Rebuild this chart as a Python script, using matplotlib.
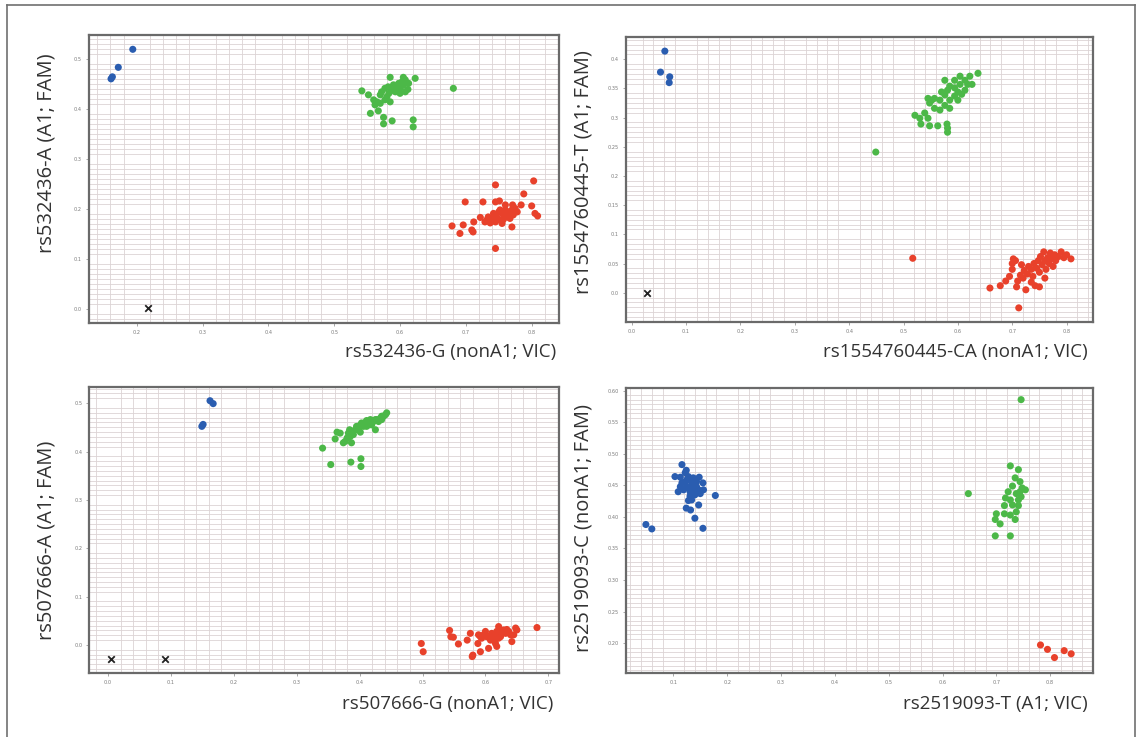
import matplotlib
matplotlib.use("Agg")
import matplotlib.pyplot as plt
from matplotlib.ticker import FixedLocator, MultipleLocator, FixedFormatter
from matplotlib.lines import Line2D

# ---------------- data ----------------
# Panel 1: rs532436
p1_blue_x = [0.194, 0.172, 0.163, 0.161]
p1_blue_y = [0.520, 0.484, 0.465, 0.461]
p1_green_x = [0.542, 0.585, 0.605, 0.623, 0.681, 0.552, 0.560, 0.562, 0.555, 0.567,
              0.575, 0.588, 0.575, 0.620, 0.620, 0.572, 0.577, 0.582, 0.590, 0.598,
              0.603, 0.608, 0.593, 0.600, 0.608, 0.580, 0.585, 0.570, 0.595, 0.613,
              0.588, 0.600, 0.577, 0.565, 0.598, 0.605, 0.612, 0.583, 0.592, 0.570]
p1_green_y = [0.437, 0.464, 0.464, 0.462, 0.442, 0.429, 0.419, 0.409, 0.392, 0.397,
              0.384, 0.377, 0.371, 0.379, 0.365, 0.435, 0.442, 0.445, 0.449, 0.452,
              0.455, 0.459, 0.435, 0.432, 0.435, 0.425, 0.415, 0.429, 0.445, 0.452,
              0.438, 0.442, 0.419, 0.415, 0.445, 0.448, 0.440, 0.432, 0.440, 0.412]
p1_red_x = [0.745, 0.803, 0.788, 0.699, 0.726, 0.745, 0.751, 0.760, 0.771, 0.784,
            0.800, 0.805, 0.809, 0.679, 0.691, 0.696, 0.712, 0.709, 0.711, 0.722,
            0.734, 0.737, 0.742, 0.750, 0.752, 0.755, 0.762, 0.767, 0.770, 0.772,
            0.778, 0.770, 0.745, 0.732, 0.740, 0.747, 0.757, 0.765, 0.775, 0.767,
            0.760, 0.752, 0.745, 0.729, 0.762, 0.770, 0.757]
p1_red_y = [0.249, 0.257, 0.231, 0.215, 0.215, 0.215, 0.217, 0.209, 0.209, 0.209,
            0.207, 0.192, 0.187, 0.167, 0.152, 0.169, 0.175, 0.159, 0.155, 0.184,
            0.185, 0.173, 0.192, 0.195, 0.179, 0.172, 0.185, 0.193, 0.199, 0.189,
            0.195, 0.165, 0.122, 0.179, 0.182, 0.185, 0.189, 0.195, 0.202, 0.182,
            0.199, 0.199, 0.175, 0.175, 0.192, 0.195, 0.180]
p1_ntc_x = [0.217]
p1_ntc_y = [0.002]

# Panel 2: rs1554760445
p2_blue_x = [0.061, 0.053, 0.070, 0.069]
p2_blue_y = [0.414, 0.378, 0.370, 0.360]
p2_green_x = [0.637, 0.622, 0.613, 0.604, 0.594, 0.585, 0.600, 0.613, 0.626, 0.576,
              0.567, 0.557, 0.548, 0.557, 0.539, 0.530, 0.545, 0.567, 0.576, 0.585,
              0.594, 0.607, 0.618, 0.545, 0.570, 0.581, 0.594, 0.604, 0.532, 0.548,
              0.563, 0.580, 0.581, 0.581, 0.521, 0.576, 0.552, 0.600, 0.585, 0.449]
p2_green_y = [0.376, 0.371, 0.364, 0.357, 0.351, 0.354, 0.344, 0.347, 0.357, 0.339,
              0.330, 0.333, 0.325, 0.316, 0.308, 0.299, 0.299, 0.313, 0.321, 0.330,
              0.337, 0.340, 0.357, 0.333, 0.344, 0.347, 0.364, 0.371, 0.289, 0.286,
              0.286, 0.289, 0.282, 0.275, 0.304, 0.364, 0.330, 0.330, 0.316, 0.241]
p2_red_x = [0.659, 0.678, 0.688, 0.695, 0.700, 0.700, 0.702, 0.706, 0.712, 0.710,
            0.715, 0.720, 0.722, 0.728, 0.730, 0.735, 0.738, 0.740, 0.745, 0.748,
            0.750, 0.752, 0.755, 0.758, 0.760, 0.762, 0.765, 0.768, 0.770, 0.772,
            0.775, 0.778, 0.780, 0.785, 0.790, 0.795, 0.800, 0.808, 0.742, 0.750,
            0.735, 0.760, 0.725, 0.717, 0.708, 0.517]
p2_red_y = [0.008, 0.012, 0.020, 0.028, 0.040, 0.050, 0.058, 0.055, -0.026, 0.020,
            0.030, 0.025, 0.038, 0.032, 0.045, 0.040, 0.028, 0.050, 0.042, 0.055,
            0.035, 0.062, 0.048, 0.070, 0.055, 0.040, 0.060, 0.050, 0.068, 0.058,
            0.045, 0.065, 0.055, 0.062, 0.070, 0.060, 0.065, 0.058, 0.012, 0.010,
            0.018, 0.025, 0.005, 0.048, 0.010, 0.059]
p2_ntc_x = [0.029]
p2_ntc_y = [0.000]

# Panel 3: rs507666
p3_blue_x = [0.162, 0.167, 0.149, 0.151]
p3_blue_y = [0.505, 0.499, 0.452, 0.456]
p3_green_x = [0.341, 0.354, 0.386, 0.402, 0.402, 0.361, 0.364, 0.374, 0.377, 0.382,
              0.384, 0.387, 0.390, 0.395, 0.401, 0.403, 0.409, 0.411, 0.414, 0.417,
              0.422, 0.425, 0.425, 0.427, 0.433, 0.435, 0.438, 0.441, 0.443, 0.380,
              0.393, 0.398, 0.406, 0.411, 0.419, 0.430, 0.369, 0.401, 0.385, 0.417,
              0.435]
p3_green_y = [0.407, 0.373, 0.378, 0.385, 0.369, 0.426, 0.440, 0.418, 0.421, 0.438,
              0.445, 0.418, 0.435, 0.452, 0.455, 0.459, 0.460, 0.464, 0.455, 0.459,
              0.462, 0.466, 0.445, 0.466, 0.469, 0.473, 0.473, 0.476, 0.480, 0.428,
              0.445, 0.445, 0.452, 0.452, 0.455, 0.462, 0.438, 0.440, 0.431, 0.466,
              0.466]
p3_red_x = [0.498, 0.501, 0.543, 0.545, 0.549, 0.557, 0.571, 0.576, 0.579, 0.580,
            0.592, 0.588, 0.589, 0.594, 0.600, 0.602, 0.605, 0.608, 0.610, 0.613,
            0.616, 0.618, 0.621, 0.624, 0.626, 0.629, 0.632, 0.634, 0.637, 0.640,
            0.642, 0.645, 0.648, 0.650, 0.682, 0.618, 0.597, 0.608, 0.616, 0.624,
            0.592, 0.613, 0.621]
p3_red_y = [0.003, -0.014, 0.030, 0.017, 0.016, 0.002, 0.010, 0.024, -0.024, -0.021,
            -0.014, 0.003, 0.021, 0.014, 0.028, 0.017, -0.007, 0.010, 0.024, 0.017,
            0.003, 0.028, 0.038, 0.017, 0.024, 0.031, 0.024, 0.032, 0.028, 0.021,
            0.007, 0.021, 0.035, 0.031, 0.036, -0.003, 0.021, 0.019, 0.023, 0.028,
            0.017, 0.010, 0.014]
p3_ntc_x = [0.004, 0.091]
p3_ntc_y = [-0.028, -0.028]

# Panel 4: rs2519093
p4_blue_x = [0.116, 0.124, 0.103, 0.113, 0.128, 0.148, 0.131, 0.122, 0.134, 0.143,
             0.155, 0.113, 0.125, 0.137, 0.109, 0.119, 0.131, 0.147, 0.156, 0.178,
             0.131, 0.140, 0.150, 0.134, 0.128, 0.147, 0.124, 0.132, 0.140, 0.155,
             0.049, 0.060, 0.122, 0.126, 0.137, 0.116, 0.143, 0.137, 0.130]
p4_blue_y = [0.483, 0.474, 0.464, 0.463, 0.464, 0.463, 0.459, 0.456, 0.454, 0.456,
             0.454, 0.448, 0.448, 0.449, 0.440, 0.443, 0.440, 0.443, 0.443, 0.434,
             0.433, 0.435, 0.437, 0.427, 0.426, 0.419, 0.414, 0.411, 0.398, 0.382,
             0.388, 0.381, 0.470, 0.460, 0.462, 0.454, 0.448, 0.440, 0.446]
p4_green_x = [0.746, 0.648, 0.726, 0.741, 0.735, 0.744, 0.748, 0.730, 0.722, 0.737,
              0.746, 0.726, 0.715, 0.741, 0.700, 0.715, 0.726, 0.737, 0.698, 0.707,
              0.698, 0.726, 0.735, 0.744, 0.754, 0.730, 0.717, 0.741]
p4_green_y = [0.586, 0.437, 0.481, 0.475, 0.462, 0.456, 0.446, 0.449, 0.440, 0.437,
              0.432, 0.427, 0.418, 0.418, 0.405, 0.405, 0.403, 0.408, 0.396, 0.389,
              0.370, 0.370, 0.396, 0.440, 0.443, 0.419, 0.430, 0.427]
p4_red_x = [0.782, 0.795, 0.808, 0.826, 0.839]
p4_red_y = [0.197, 0.190, 0.177, 0.188, 0.183]

p1_xticks = [0.2, 0.3, 0.4, 0.5, 0.6, 0.7, 0.8]
p1_yticks = [0.0, 0.1, 0.2, 0.3, 0.4, 0.5]
p2_xticks = [0.0, 0.1, 0.2, 0.3, 0.4, 0.5, 0.6, 0.7, 0.8]
p2_yticks = [0.0, 0.05, 0.1, 0.15, 0.2, 0.25, 0.3, 0.35, 0.4]
p3_xticks = [0.0, 0.1, 0.2, 0.3, 0.4, 0.5, 0.6, 0.7]
p3_yticks = [0.0, 0.1, 0.2, 0.3, 0.4, 0.5]
p4_xticks = [0.1, 0.2, 0.3, 0.4, 0.5, 0.6, 0.7, 0.8]
p4_yticks = [0.20, 0.25, 0.30, 0.35, 0.40, 0.45, 0.50, 0.55, 0.60]

p1_xticklabels = ["0.2", "0.3", "0.4", "0.5", "0.6", "0.7", "0.8"]
p1_yticklabels = ["0.0", "0.1", "0.2", "0.3", "0.4", "0.5"]
p2_xticklabels = ["0.0", "0.1", "0.2", "0.3", "0.4", "0.5", "0.6", "0.7", "0.8"]
p2_yticklabels = ["0.0", "0.05", "0.1", "0.15", "0.2", "0.25", "0.3", "0.35", "0.4"]
p3_xticklabels = ["0.0", "0.1", "0.2", "0.3", "0.4", "0.5", "0.6", "0.7"]
p3_yticklabels = ["0.0", "0.1", "0.2", "0.3", "0.4", "0.5"]
p4_xticklabels = ["0.1", "0.2", "0.3", "0.4", "0.5", "0.6", "0.7", "0.8"]
p4_yticklabels = ["0.20", "0.25", "0.30", "0.35", "0.40", "0.45", "0.50", "0.55", "0.60"]

p1_xlabel, p1_ylabel = "rs532436-G (nonA1; VIC)", "rs532436-A (A1; FAM)"
p2_xlabel, p2_ylabel = "rs1554760445-CA (nonA1; VIC)", "rs1554760445-T (A1; FAM)"
p3_xlabel, p3_ylabel = "rs507666-G (nonA1; VIC)", "rs507666-A (A1; FAM)"
p4_xlabel, p4_ylabel = "rs2519093-T (A1; VIC)", "rs2519093-C (nonA1; FAM)"

# ---------------- style ----------------
BLUE = "#2a5db0"
GREEN = "#4cb848"
RED = "#e8412b"
GRID = "#dcd3d5"
FRAME = "#6a6a6a"
LABEL = "#333333"
FONT = "Open Sans"
W, H = 1139, 737

fig = plt.figure(figsize=(W / 100, H / 100), dpi=100)
fig.patch.set_facecolor("white")

# outer frame around the whole figure (open at the bottom edge)
for xs, ys in [((7, 7), (H + 5, 5)), ((7, 1135), (5, 5)), ((1135, 1135), (5, H + 5))]:
    fig.add_artist(Line2D([x / W for x in xs], [1 - y / H for y in ys],
                          color="#707070", lw=1.2, transform=fig.transFigure))


def px_box(left, top, right, bottom):
    return [left / W, 1 - bottom / H, (right - left) / W, (bottom - top) / H]


panels = [
    dict(box=px_box(89, 35, 559, 323), xlim=(0.1275, 0.8415), ylim=(-0.027, 0.5486),
         xt=p1_xticks, yt=p1_yticks, xtl=p1_xticklabels, ytl=p1_yticklabels,
         gx=0.02, gy=0.01,
         groups=[(p1_blue_x, p1_blue_y, BLUE), (p1_green_x, p1_green_y, GREEN),
                 (p1_red_x, p1_red_y, RED)],
         ntc=(p1_ntc_x, p1_ntc_y),
         xlabel=p1_xlabel, ylabel=p1_ylabel, xl_pos=(556, 352), yl_pos=(47, 153)),
    dict(box=px_box(625.7, 36.7, 1092.7, 321.7), xlim=(-0.011, 0.848), ylim=(-0.0497, 0.4387),
         xt=p2_xticks, yt=p2_yticks, xtl=p2_xticklabels, ytl=p2_yticklabels,
         gx=0.02, gy=0.05 / 6,
         groups=[(p2_blue_x, p2_blue_y, BLUE), (p2_green_x, p2_green_y, GREEN),
                 (p2_red_x, p2_red_y, RED)],
         ntc=(p2_ntc_x, p2_ntc_y),
         xlabel=p2_xlabel, ylabel=p2_ylabel, xl_pos=(1088, 352), yl_pos=(583, 172)),
    dict(box=px_box(89.3, 386.7, 559, 673.3), xlim=(-0.030, 0.717), ylim=(-0.0586, 0.534),
         xt=p3_xticks, yt=p3_yticks, xtl=p3_xticklabels, ytl=p3_yticklabels,
         gx=0.02, gy=0.01,
         groups=[(p3_blue_x, p3_blue_y, BLUE), (p3_green_x, p3_green_y, GREEN),
                 (p3_red_x, p3_red_y, RED)],
         ntc=(p3_ntc_x, p3_ntc_y),
         xlabel=p3_xlabel, ylabel=p3_ylabel, xl_pos=(553, 704), yl_pos=(47, 540)),
    dict(box=px_box(625.7, 388.3, 1092.7, 672.7), xlim=(0.0115, 0.879), ylim=(0.153, 0.604),
         xt=p4_xticks, yt=p4_yticks, xtl=p4_xticklabels, ytl=p4_yticklabels,
         gx=0.02, gy=0.05 / 7,
         groups=[(p4_blue_x, p4_blue_y, BLUE), (p4_green_x, p4_green_y, GREEN),
                 (p4_red_x, p4_red_y, RED)],
         ntc=None,
         xlabel=p4_xlabel, ylabel=p4_ylabel, xl_pos=(1088, 704), yl_pos=(583, 528)),
]

for p in panels:
    ax = fig.add_axes(p["box"])
    ax.set_xlim(*p["xlim"])
    ax.set_ylim(*p["ylim"])
    ax.set_facecolor("white")

    ax.xaxis.set_major_locator(FixedLocator(p["xt"]))
    ax.xaxis.set_major_formatter(FixedFormatter(p["xtl"]))
    ax.yaxis.set_major_locator(FixedLocator(p["yt"]))
    ax.yaxis.set_major_formatter(FixedFormatter(p["ytl"]))
    ax.xaxis.set_minor_locator(MultipleLocator(p["gx"]))
    ax.yaxis.set_minor_locator(MultipleLocator(p["gy"]))
    ax.grid(which="minor", color=GRID, lw=0.6)
    ax.grid(which="major", visible=False)
    ax.set_axisbelow(True)
    ax.tick_params(which="major", length=2, width=0.6, color="#999999",
                   labelsize=3.6, labelcolor="#7a7a7a", pad=3)
    ax.tick_params(which="minor", length=0)
    for s in ax.spines.values():
        s.set_color(FRAME)
        s.set_linewidth(1.6)

    for xs, ys, c in p["groups"]:
        ax.scatter(xs, ys, s=26, color=c, edgecolors="none", zorder=3)
    if p["ntc"] is not None:
        ax.scatter(p["ntc"][0], p["ntc"][1], marker="x", s=22, color="#222222",
                   linewidths=1.3, zorder=3)

    xl, yl = p["xl_pos"], p["yl_pos"]
    fig.text(xl[0] / W, 1 - xl[1] / H, p["xlabel"], ha="right", va="center",
             fontsize=13.5, color=LABEL, family=FONT)
    fig.text(yl[0] / W, 1 - yl[1] / H, p["ylabel"], ha="center", va="center",
             rotation=90, fontsize=14.5, color=LABEL, family=FONT)

fig.savefig("out.png", dpi=100, facecolor="white")
